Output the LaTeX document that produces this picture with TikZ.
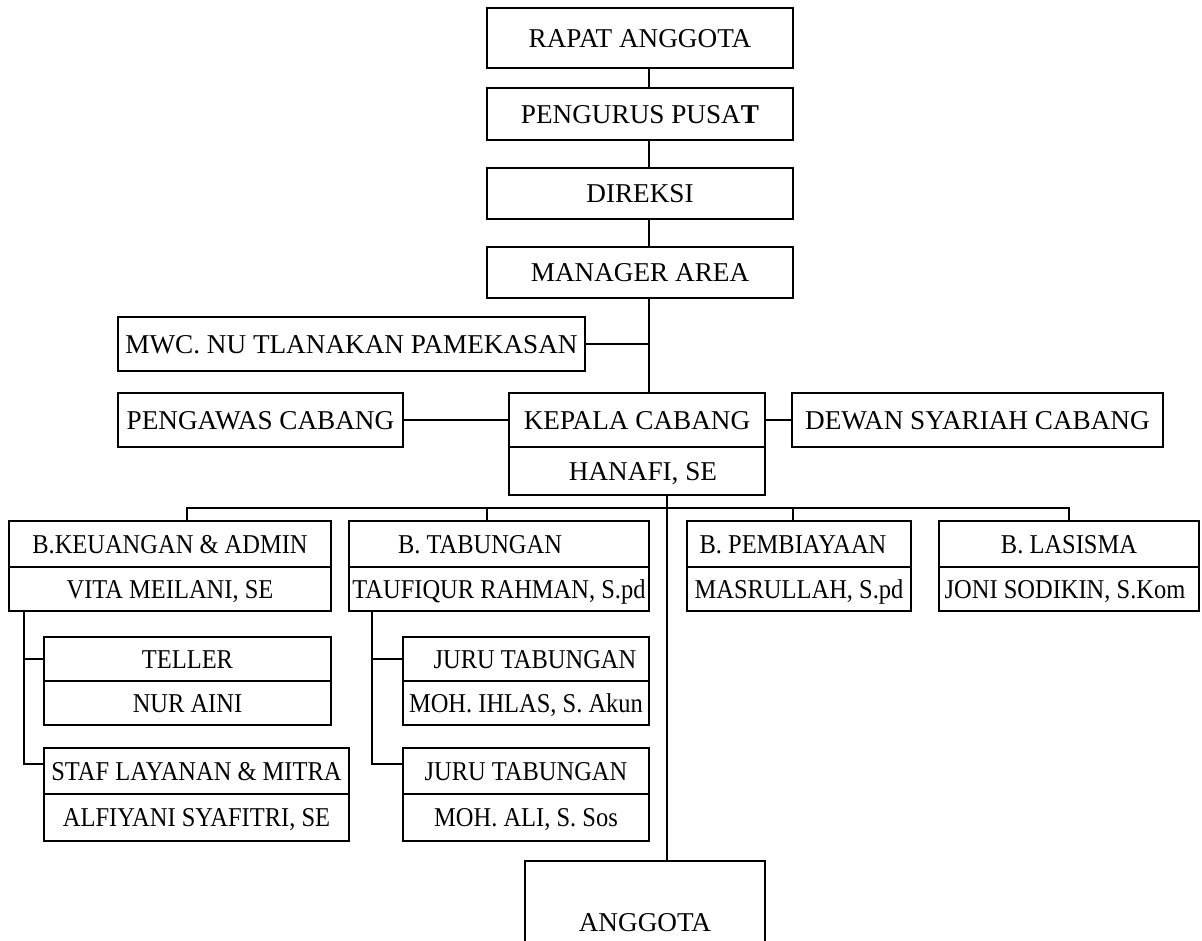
\documentclass[tikz,border=0pt]{standalone}
\usepackage{fontspec}
\setmainfont{Liberation Serif}
\newfontfamily\condfont{Liberation Serif}[FakeStretch=0.9]
\tikzset{
  box/.style={draw, line width=2.2pt, inner sep=0pt, anchor=center,
    font=\fontsize{27.2}{30}\selectfont, text height=18pt, text depth=0pt},
  cbox/.style={box, font=\condfont\fontsize{27.2}{30}\selectfont},
  link/.style={line width=2.2pt},
}
\begin{document}
\begin{tikzpicture}[x=1pt,y=-1pt]
\clip (0,0) rectangle (1202,940);
\fill[white] (0,0) rectangle (1202,940);
% top chain
\node[box, minimum width=306pt, minimum height=60pt] (rapat) at (640,38) {RAPAT ANGGOTA};
\node[box, minimum width=306pt, minimum height=52pt] (peng) at (640,114) {PENGURUS PUSA\textbf{T}};
\node[box, minimum width=306pt, minimum height=51pt] (dir) at (640,193.5) {DIREKSI};
\node[box, minimum width=306pt, minimum height=51pt] (man) at (640,272.5) {MANAGER AREA};
\node[box, minimum width=467pt, minimum height=54pt] (mwc) at (351.5,344) {MWC. NU TLANAKAN PAMEKASAN};
\node[box, minimum width=285pt, minimum height=54pt] (pengawas) at (260.5,420) {PENGAWAS CABANG};
\node[box, minimum width=256pt, minimum height=54pt] (kep) at (637,420) {KEPALA CABANG};
\node[box, minimum width=256pt, minimum height=48pt] (han) at (637,471) {\hspace*{12pt}HANAFI, SE};
\node[box, minimum width=371pt, minimum height=54pt] (dew) at (977.5,420) {DEWAN SYARIAH CABANG};
% departments
\node[cbox, minimum width=322pt, minimum height=46pt] (keu) at (170,544) {B.KEUANGAN \& ADMIN};
\node[cbox, minimum width=322pt, minimum height=44pt] (vita) at (170,589) {VITA MEILANI, SE};
\node[cbox, minimum width=300pt, minimum height=46pt] (tab) at (499,544) {\hspace*{-38pt}B. TABUNGAN};
\node[cbox, minimum width=300pt, minimum height=44pt] (tauf) at (499,589) {TAUFIQUR RAHMAN, S.pd};
\node[cbox, minimum width=224pt, minimum height=46pt] (pemb) at (799,544) {\hspace*{-12pt}B. PEMBIAYAAN};
\node[cbox, minimum width=224pt, minimum height=44pt] (masr) at (799,589) {MASRULLAH, S.pd};
\node[cbox, minimum width=260pt, minimum height=46pt] (las) at (1069,544) {B. LASISMA};
\node[cbox, minimum width=260pt, minimum height=44pt] (joni) at (1069,589) {\hspace*{-8pt}JONI SODIKIN, S.Kom};
% staff
\node[cbox, minimum width=287pt, minimum height=44pt] (tel) at (187.5,659) {TELLER};
\node[cbox, minimum width=287pt, minimum height=44pt] (nur) at (187.5,703) {NUR AINI};
\node[cbox, minimum width=305pt, minimum height=46pt] (staf) at (196.5,771) {STAF LAYANAN \& MITRA};
\node[cbox, minimum width=305pt, minimum height=47pt] (alf) at (196.5,817.5) {ALFIYANI SYAFITRI, SE};
\node[cbox, minimum width=246pt, minimum height=44pt] (jt1) at (526,659) {\hspace*{18pt}JURU TABUNGAN};
\node[cbox, minimum width=246pt, minimum height=44pt] (ihl) at (526,703) {MOH. IHLAS, S. Akun};
\node[cbox, minimum width=246pt, minimum height=46pt] (jt2) at (526,771) {JURU TABUNGAN};
\node[cbox, minimum width=246pt, minimum height=47pt] (ali) at (526,817.5) {MOH. ALI, S. Sos};
\node[box, minimum width=240pt, minimum height=122pt] (ang) at (645,922) {ANGGOTA};
% connectors
\coordinate (spine) at ([xshift=9pt]man.south);
\draw[link] ([xshift=9pt]rapat.south) -- ([xshift=9pt]peng.north);
\draw[link] ([xshift=9pt]peng.south) -- ([xshift=9pt]dir.north);
\draw[link] ([xshift=9pt]dir.south) -- ([xshift=9pt]man.north);
\draw[link] (spine) -- (spine |- kep.north);
\draw[link] (mwc.east) -- (mwc.east -| spine);
\draw[link] (pengawas.east) -- (kep.west);
\draw[link] (kep.east) -- (dew.west);
\coordinate (trunk) at ([xshift=30pt]han.south);
\draw[link] (trunk) -- (trunk |- ang.north);
\coordinate (tk1) at ([xshift=17pt]keu.north);
\coordinate (tk2) at ([xshift=-12pt]tab.north);
\coordinate (tk3) at ([xshift=-6pt]pemb.north);
\draw[link] (tk1) -- ++(0,-12) -| (las.north);
\draw[link] (tk2) -- ++(0,-12);
\draw[link] (tk3) -- ++(0,-12);
\coordinate (kv) at ([xshift=16pt]vita.south west);
\draw[link] (kv) |- ([yshift=7pt]staf.west);
\draw[link] (kv |- tel.west) -- (tel.west);
\coordinate (tv) at ([xshift=24pt]tauf.south west);
\draw[link] (tv) |- ([yshift=7pt]jt2.west);
\draw[link] (tv |- jt1.west) -- (jt1.west);
\end{tikzpicture}
\end{document}
